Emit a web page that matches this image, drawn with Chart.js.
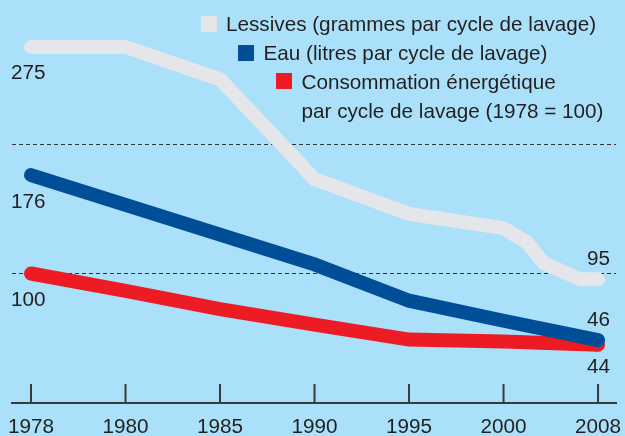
<!DOCTYPE html>
<html><head><meta charset="utf-8">
<script src="https://cdn.jsdelivr.net/npm/chart.js@4.4.1/dist/chart.umd.min.js"></script>
<style>html,body{margin:0;padding:0;background:#aae0f9;} canvas{display:block}</style>
</head><body>
<canvas id="c" width="625" height="436"></canvas>
<script>
// ---- data ----
const categories = ['1978', '1980', '1985', '1990', '1995', '2000', '2008'];
const categoryYears = [1978, 1980, 1985, 1990, 1995, 2000, 2008];
const lessivesYears = [1978, 1980, 1985, 1990, 1995, 2000, 2002, 2003.4, 2006.5, 2008];
const lessivesValues = [275, 275, 250, 173, 146, 135, 124, 108, 95.5, 95.5];
const eauValues = [176, 153, 130, 107, 79, 63.5, 48.5];
const energieValues = [100, 86.5, 72.5, 60.5, 49, 47.5, 45];
const seriesNames = ['Lessives (grammes par cycle de lavage)', 'Eau (litres par cycle de lavage)', 'Consommation énergétique', 'par cycle de lavage (1978 = 100)'];
const startLabels = ['275', '176', '100'];
const endLabels = ['95', '46', '44'];
const gridValues = [100, 200];

// map a year to its position on the evenly spaced category axis
function yearPos(y) {
  for (let i = 0; i < categoryYears.length - 1; i++) {
    const a = categoryYears[i], b = categoryYears[i + 1];
    if (y >= a && y <= b) return i + (y - a) / (b - a);
  }
  return categoryYears.length - 1;
}
const toPts = (years, vals) => vals.map((v, i) => ({ x: yearPos(years[i]), y: v }));

const FONT = '"Liberation Sans", Arial, Helvetica, sans-serif';
const FS = 20.7;
const TEXT = '#231f20';
const colors = ['#e4e6e9', '#004d98', '#ed1c24'];

const annotate = {
  id: 'annotate',
  afterDatasetsDraw(chart) {
    const ctx = chart.ctx;
    const ca = chart.chartArea;
    const x = chart.scales.x;
    ctx.save();
    // inner tick marks
    ctx.strokeStyle = '#3a3a3a';
    ctx.lineWidth = 2;
    x.ticks.forEach(t => {
      const px = x.getPixelForValue(t.value);
      ctx.beginPath();
      ctx.moveTo(px, ca.bottom);
      ctx.lineTo(px, ca.bottom - 19);
      ctx.stroke();
    });
    // value labels
    ctx.fillStyle = TEXT;
    ctx.font = FS + 'px ' + FONT;
    ctx.textBaseline = 'alphabetic';
    const endOff = [-14.5, -14.5, 28.5];
    chart.data.datasets.forEach((ds, i) => {
      const meta = chart.getDatasetMeta(i);
      const first = meta.data[0], last = meta.data[meta.data.length - 1];
      ctx.textAlign = 'left';
      ctx.fillText(startLabels[i], ca.left - 1, first.y + 32.5);
      ctx.textAlign = 'right';
      ctx.fillText(endLabels[i], 610, last.y + endOff[i]);
    });
    // legend
    const rows = [
      { sq: [201, 16], tx: 226, by: 31 },
      { sq: [238, 45], tx: 263.5, by: 60 },
      { sq: [276, 73], tx: 301.5, by: 89 }
    ];
    ctx.textAlign = 'left';
    rows.forEach((r, i) => {
      ctx.fillStyle = colors[i];
      ctx.fillRect(r.sq[0], r.sq[1], 16, 16);
      ctx.fillStyle = TEXT;
      ctx.fillText(seriesNames[i], r.tx, r.by);
    });
    ctx.fillText(seriesNames[3], 301.5, 117.5);
    ctx.restore();
  }
};

const lineStyle = { borderWidth: 14, borderCapStyle: 'round', borderJoinStyle: 'miter', pointRadius: 0, tension: 0, fill: false };

new Chart(document.getElementById('c'), {
  type: 'line',
  data: {
    datasets: [
      Object.assign({ label: seriesNames[0], data: toPts(lessivesYears, lessivesValues), borderColor: colors[0] }, lineStyle),
      Object.assign({ label: seriesNames[1], data: toPts(categoryYears, eauValues), borderColor: colors[1] }, lineStyle),
      Object.assign({ label: seriesNames[2], data: toPts(categoryYears, energieValues), borderColor: colors[2] }, lineStyle)
    ]
  },
  options: {
    responsive: false,
    animation: false,
    layout: { padding: { left: 12, right: 9, top: 0, bottom: 0 } },
    plugins: { legend: { display: false }, tooltip: { enabled: false } },
    scales: {
      x: {
        type: 'linear',
        min: -0.2011,
        max: 6.19,
        afterBuildTicks: s => { s.ticks = categories.map((c, i) => ({ value: i })); },
        afterFit: s => { s.height = 33; s.paddingLeft = 0; s.paddingRight = 0; },
        grid: { display: false },
        border: { display: true, color: '#3a3a3a', width: 2 },
        ticks: {
          autoSkip: false, maxRotation: 0, padding: 4,
          color: TEXT, font: { family: FONT, size: FS },
          callback: v => categories[v]
        }
      },
      y: {
        min: 0,
        max: 311.2,
        afterFit: s => { s.width = 0; s.paddingTop = 0; s.paddingBottom = 0; },
        afterBuildTicks: s => { s.ticks = [0].concat(gridValues).map(v => ({ value: v })); },
        ticks: { display: false },
        border: { display: false, dash: [4, 3] },
        grid: {
          drawTicks: false,
          lineWidth: 1,
          color: c => gridValues.includes(c.tick.value) ? '#333333' : 'rgba(0,0,0,0)'
        }
      }
    }
  },
  plugins: [annotate]
});
</script>
</body></html>
